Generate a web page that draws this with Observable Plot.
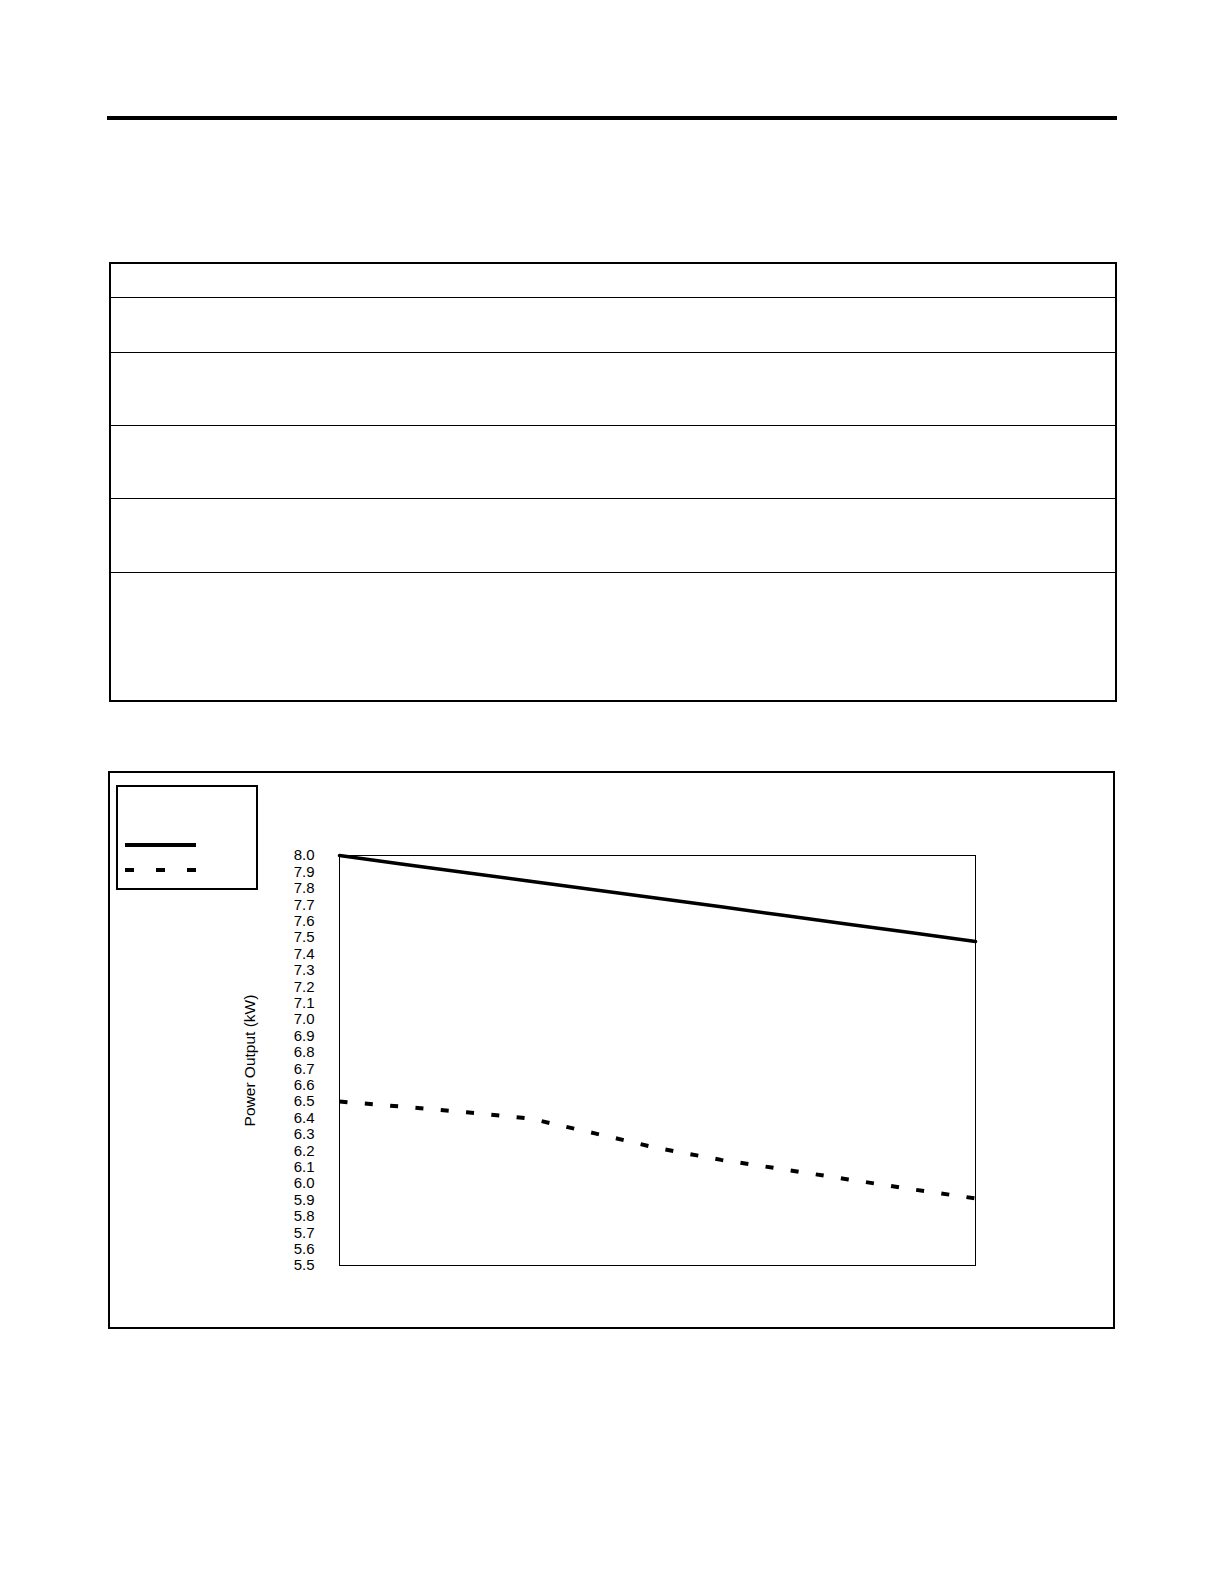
<!DOCTYPE html>
<html>
<head>
<meta charset="utf-8">
<script src="https://cdn.jsdelivr.net/npm/d3@7"></script>
<script src="https://cdn.jsdelivr.net/npm/@observablehq/plot@0.6"></script>
<style>
  html, body { margin: 0; padding: 0; background: #fff; }
  #page { position: relative; width: 1224px; height: 1584px; background: #fff; font-family: "Liberation Sans", Arial, sans-serif; }
  .abs { position: absolute; box-sizing: border-box; }
  .rowline { position: absolute; left: 0; right: 0; height: 1px; background: #000; }
</style>
</head>
<body>
<div id="page">
  <div class="abs" style="left:107px; top:116px; width:1010px; height:4px; background:#000;"></div>

  <div class="abs" id="table" style="left:109px; top:262px; width:1008px; height:440px; border:2px solid #000;"></div>

  <div class="abs" style="left:108px; top:771px; width:1007px; height:558px; border:2px solid #000;"></div>

  <div class="abs" style="left:116px; top:785px; width:142px; height:105px; border:2px solid #000;">
    <svg width="142" height="105" style="position:absolute; left:-2px; top:-2px;">
      <line x1="9" x2="80" y1="60" y2="60" stroke="#000" stroke-width="4"></line>
      <line x1="9" x2="80" y1="85" y2="85" stroke="#000" stroke-width="4" stroke-dasharray="9,22"></line>
    </svg>
  </div>

  <div class="abs" id="chart" style="left:200px; top:830px;"></div>
</div>
<script>
// Table row separator positions (page layout, not data)
const rowLines = [297, 352, 425, 498, 572];

// Chart data (x positions along the unlabeled horizontal axis)
const xSteps = [0, 1, 2, 3, 4, 5, 6, 7, 8, 9, 10];
const solidSeries = [8.000, 7.947, 7.895, 7.843, 7.791, 7.739, 7.687, 7.634, 7.581, 7.529, 7.476];
const dashedSeries = [6.500, 6.468, 6.434, 6.396, 6.307, 6.216, 6.144, 6.085, 6.025, 5.965, 5.909];
const yTicks = [5.5, 5.6, 5.7, 5.8, 5.9, 6.0, 6.1, 6.2, 6.3, 6.4, 6.5, 6.6, 6.7, 6.8, 6.9,
                7.0, 7.1, 7.2, 7.3, 7.4, 7.5, 7.6, 7.7, 7.8, 7.9, 8.0];
const yLabel = "Power Output (kW)";

const table = document.getElementById("table");
for (const y of rowLines) {
  const d = document.createElement("div");
  d.className = "rowline";
  d.style.top = (y - 262 - 2) + "px";
  table.appendChild(d);
}

const solidData = xSteps.map((x, i) => ({x, y: solidSeries[i]}));
const dashedData = xSteps.map((x, i) => ({x, y: dashedSeries[i]}));

const chart = Plot.plot({
  width: 800,
  height: 460,
  marginLeft: 139,
  marginRight: 25,
  marginTop: 25,
  marginBottom: 25,
  style: {fontFamily: "'Liberation Sans', Arial, sans-serif", fontSize: "15px", color: "#000", background: "transparent", overflow: "visible"},
  x: {domain: [0, 10], axis: null},
  y: {domain: [5.5, 8.0]},
  marks: [
    Plot.axisY({
      ticks: yTicks,
      tickFormat: d3.format(".1f"),
      tickSize: 0,
      tickPadding: 25,
      fontSize: 15,
      label: null
    }),
    Plot.axisY({
      ticks: [],
      tickSize: 0,
      label: yLabel,
      labelAnchor: "center",
      labelArrow: "none",
      labelOffset: 96,
      fontSize: 15.5
    }),
    Plot.frame({stroke: "#000", strokeWidth: 1}),
    Plot.line(solidData, {x: "x", y: "y", stroke: "#000", strokeWidth: 3.5}),
    Plot.line(dashedData, {x: "x", y: "y", stroke: "#000", strokeWidth: 4, strokeDasharray: "8,17.4", strokeLinecap: "butt"})
  ]
});
document.getElementById("chart").appendChild(chart);
</script>
</body>
</html>
